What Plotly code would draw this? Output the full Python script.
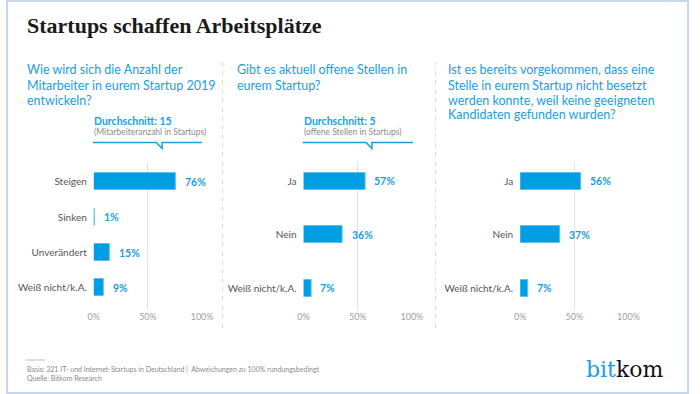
import plotly.graph_objects as go

W, H = 700, 394

# ---------------- data ----------------
title = "Startups schaffen Arbeitsplätze"

q1_lines = ["Wie wird sich die Anzahl der", "Mitarbeiter in eurem Startup 2019", "entwickeln?"]
q2_lines = ["Gibt es aktuell offene Stellen in", "eurem Startup?"]
q3_lines = ["Ist es bereits vorgekommen, dass eine", "Stelle in eurem Startup nicht besetzt",
            "werden konnte, weil keine geeigneten", "Kandidaten gefunden wurden?"]

cats1 = ["Steigen", "Sinken", "Unverändert", "Weiß nicht/k.A."]
vals1 = [76, 1, 15, 9]
cats2 = ["Ja", "Nein", "Weiß nicht/k.A."]
vals2 = [57, 36, 7]
cats3 = ["Ja", "Nein", "Weiß nicht/k.A."]
vals3 = [56, 37, 7]

avg1_title, avg1_sub = "Durchschnitt: 15", "(Mitarbeiteranzahl in Startups)"
avg2_title, avg2_sub = "Durchschnitt: 5", "(offene Stellen in Startups)"

tick_vals = [0, 50, 100]
tick_text = ["0%", "50%", "100%"]

footer1 = "Basis: 321 IT- und Internet-Startups in Deutschland |  Abweichungen zu 100% rundungsbedingt"
footer2 = "Quelle: Bitkom Research"

# ---------------- style ----------------
BLUE = "#009fe3"
TXT_BLUE = "#1a9ee0"
SANS = "Lato"
SERIF = "Liberation Serif"


def px(x):
    return x / W


def py(y):
    return 1 - y / H


fig = go.Figure()

panels = [
    (cats1, vals1, "x", "y", 90, 201, 181.7, 35.43),
    (cats2, vals2, "x2", "y2", 305, 416, 181.0, 53.5),
    (cats3, vals3, "x3", "y3", 527, 638, 181.0, 53.5),
]

y_top, y_bot = 162, 310
annotations = []
for i, (cats, vals, xa, ya, x0, x1, c0, step) in enumerate(panels):
    bar_w = 17 / step
    fig.add_trace(go.Bar(
        x=vals, y=cats, orientation="h", xaxis=xa, yaxis=ya,
        marker=dict(color=BLUE, line=dict(color="#5ec0ee", width=1)),
        width=bar_w, hoverinfo="skip", showlegend=False,
    ))
    lo = (y_top - c0) / step
    hi = (y_bot - c0) / step
    sfx = "" if i == 0 else str(i + 1)
    fig.layout["xaxis" + sfx] = dict(
        domain=[px(x0), px(x1)], range=[0, 100], anchor=ya,
        tickvals=tick_vals, ticktext=tick_text, showgrid=True,
        gridcolor="#e2e2e2", gridwidth=1, zeroline=False, showline=False,
        tickfont=dict(family=SANS, size=9, color="#a0a0a0"), fixedrange=True,
    )
    fig.layout["yaxis" + sfx] = dict(
        domain=[py(y_bot), py(y_top)], type="category", categoryorder="array",
        categoryarray=cats, range=[hi, lo], anchor=xa, showgrid=False,
        zeroline=False, showline=False, ticks="", ticklabelstandoff=6,
        tickfont=dict(family=SANS, size=10, color="#555555"), fixedrange=True,
    )
    for c, v in zip(cats, vals):
        annotations.append(dict(
            x=v, y=c, xref=xa, yref=ya, text=f"<b>{v}%</b>", showarrow=False,
            xanchor="left", yanchor="middle", xshift=7,
            font=dict(family=SANS, size=10.5, color=TXT_BLUE),
        ))

# title
annotations.append(dict(x=px(19), y=py(26), xref="paper", yref="paper", text=f"<b>{title}</b>",
                        showarrow=False, xanchor="left", yanchor="middle",
                        font=dict(family=SERIF, size=22, color="#1a1a1a")))

# questions
line_step = 15
for lines, x, yc in [(q1_lines, 19, 70), (q2_lines, 235, 70), (q3_lines, 451, 70)]:
    for k, ln in enumerate(lines):
        annotations.append(dict(x=px(x), y=py(yc + k * line_step), xref="paper", yref="paper",
                                text=ln, showarrow=False, xanchor="left", yanchor="middle",
                                font=dict(family=SANS, size=12.5, color=TXT_BLUE)))

# averages
for t, s, x in [(avg1_title, avg1_sub, 88), (avg2_title, avg2_sub, 303)]:
    annotations.append(dict(x=px(x), y=py(121), xref="paper", yref="paper", text=f"<b>{t}</b>",
                            showarrow=False, xanchor="left", yanchor="middle",
                            font=dict(family=SANS, size=10.5, color=TXT_BLUE)))
    annotations.append(dict(x=px(x), y=py(132.5), xref="paper", yref="paper", text=s,
                            showarrow=False, xanchor="left", yanchor="middle",
                            font=dict(family=SANS, size=8.5, color="#8a8a8a")))

# footer
annotations.append(dict(x=px(19), y=py(369), xref="paper", yref="paper", text=footer1,
                        showarrow=False, xanchor="left", yanchor="middle",
                        font=dict(family=SANS, size=7, color="#8a8a8a")))
annotations.append(dict(x=px(19), y=py(378), xref="paper", yref="paper", text=footer2,
                        showarrow=False, xanchor="left", yanchor="middle",
                        font=dict(family=SANS, size=7, color="#8a8a8a")))

# logo
annotations.append(dict(x=px(676), y=py(369), xref="paper", yref="paper",
                        text=f"<span style='color:{TXT_BLUE}'>bit</span>kom",
                        showarrow=False, xanchor="right", yanchor="middle",
                        font=dict(family="DejaVu Serif", size=22, color="#111111")))

shapes = []
# border
shapes.append(dict(type="rect", xref="paper", yref="paper", x0=px(1), x1=px(699), y0=py(393), y1=py(1),
                   line=dict(color="#c6d6ec", width=2)))
# separators
for xs in [222, 440]:
    shapes.append(dict(type="line", xref="paper", yref="paper", x0=px(xs), x1=px(xs),
                       y0=py(62), y1=py(331), line=dict(color="#dcdcdc", width=1, dash="5px,4px")))
# callout lines with notch
for xa0, xn, xa1 in [(89, 160, 201), (304, 375, 417)]:
    yl, yd = 142.5, 148.5
    path = (f"M {px(xa0)},{py(yl)} L {px(xn-6)},{py(yl)} L {px(xn)},{py(yd)} "
            f"L {px(xn)},{py(yl)} L {px(xa1)},{py(yl)}")
    shapes.append(dict(type="path", xref="paper", yref="paper", path=path,
                       line=dict(color=TXT_BLUE, width=1.5)))
# footer rule
shapes.append(dict(type="line", xref="paper", yref="paper", x0=px(20), x1=px(40), y0=py(360), y1=py(360),
                   line=dict(color="#bbbbbb", width=1)))

fig.update_layout(
    autosize=True, margin=dict(l=0, r=0, t=0, b=0),
    paper_bgcolor="white", plot_bgcolor="white",
    annotations=annotations, shapes=shapes, bargap=0, showlegend=False,
)

fig.write_html(
    "out.html",
    config={"displayModeBar": False, "responsive": True},
    default_width="100vw",
    default_height="100vh",
    post_script=(
        "document.documentElement.style.margin='0px';"
        "document.documentElement.style.overflow='hidden';"
        "document.body.style.margin='0px';"
        "document.body.style.overflow='hidden';"
        "Plotly.Plots.resize(document.getElementById('{plot_id}'));"
    ),
)
